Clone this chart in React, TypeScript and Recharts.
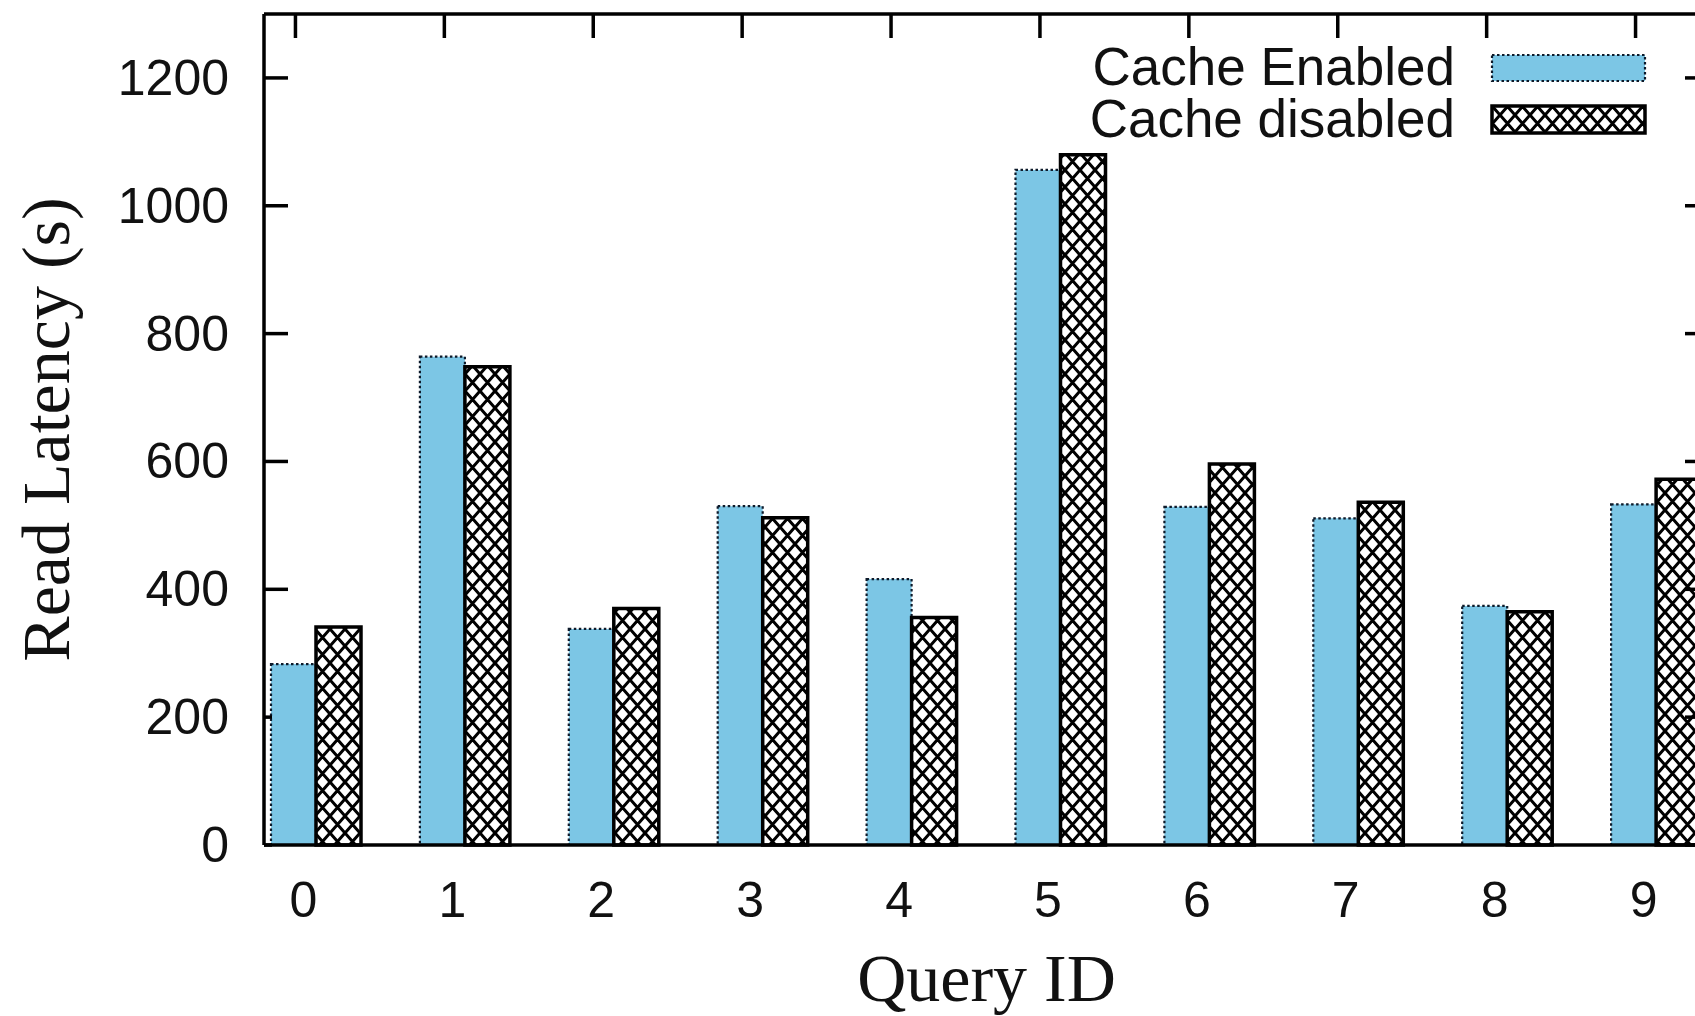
import { BarChart, Bar, XAxis, YAxis, Legend } from 'recharts';

// values (seconds)
const queryIds = ['0', '1', '2', '3', '4', '5', '6', '7', '8', '9'];
const cacheEnabled = [283, 764, 338, 530, 416, 1056, 529, 511, 374, 533];
const cacheDisabled = [341, 748, 370, 512, 356, 1080, 596, 536, 365, 572];
const yTicks = [0, 200, 400, 600, 800, 1000, 1200];

const data = queryIds.map((id, i) => ({ id, enabled: cacheEnabled[i], disabled: cacheDisabled[i] }));

const BLUE = '#7cc6e5';
const SANS = '"Liberation Sans", Arial, sans-serif';
const SERIF = '"Liberation Serif", "Times New Roman", serif';
const AXIS_W = 3.5;
// plot frame (gnuplot border), right side sits just past the visible edge
const PLOT_TOP = 14;
const PLOT_RIGHT = 1709;

const HatchDef = ({ id }) => (
  <pattern id={id} patternUnits="userSpaceOnUse" width={15} height={17}>
    <rect width={15} height={17} fill="#fff" />
    <path d="M0,0 L15,17 M15,0 L0,17" stroke="#000" strokeWidth={3} />
  </pattern>
);

// y labels on the left, inward tick marks on both sides
const LeftTick = (props) => {
  const x = Number(props.x);
  const y = Number(props.y);
  // the first bar sits over the low ticks in the original
  const len = props.payload.value < cacheEnabled[0] ? 8 : 24;
  return (
    <g>
      <line x1={x + 35} x2={x + 35 + len} y1={y} y2={y} stroke="#000" strokeWidth={AXIS_W} />
      <line x1={PLOT_RIGHT - 24} x2={PLOT_RIGHT} y1={y} y2={y} stroke="#000" strokeWidth={AXIS_W} />
      <text x={x} y={y} dy={17} textAnchor="end" fontFamily={SANS} fontSize={50} fill="#111">
        {props.payload.value}
      </text>
    </g>
  );
};

// x labels below, plus the inward tick on the top border
const BottomTick = (props) => {
  const x = Number(props.x);
  const y = Number(props.y);
  return (
    <g>
      <line x1={x - 21} x2={x - 21} y1={PLOT_TOP} y2={PLOT_TOP + 24} stroke="#000" strokeWidth={AXIS_W} />
      <text x={x - 13} y={y} dy={72} textAnchor="middle" fontFamily={SANS} fontSize={50} fill="#111">
        {props.payload.value}
      </text>
    </g>
  );
};

const XTitle = ({ viewBox }) => (
  <text x={viewBox.x + viewBox.width / 2} y={viewBox.y + 156} textAnchor="middle" fontFamily={SERIF} fontSize={68} fill="#111">
    Query ID
  </text>
);

const YTitle = ({ viewBox }) => {
  const cy = viewBox.y + viewBox.height / 2;
  return (
    <g>
      <line x1={viewBox.x + viewBox.width} x2={PLOT_RIGHT} y1={PLOT_TOP} y2={PLOT_TOP} stroke="#000" strokeWidth={AXIS_W} />
      <line x1={PLOT_RIGHT} x2={PLOT_RIGHT} y1={PLOT_TOP} y2={viewBox.y + viewBox.height} stroke="#000" strokeWidth={AXIS_W} />
      <text x={69} y={cy} transform={`rotate(-90, 69, ${cy})`} textAnchor="middle" fontFamily={SERIF} fontSize={68} fill="#111">
        Read Latency (s)
      </text>
    </g>
  );
};

const LegendBox = () => (
  <svg width={620} height={120}>
    <defs>
      <HatchDef id="hatch-key" />
    </defs>
    <text x={405} y={55} textAnchor="end" fontFamily={SANS} fontSize={53} fill="#111">Cache Enabled</text>
    <rect x={442} y={25} width={153} height={26} fill={BLUE} stroke="#0d1a2a" strokeWidth={2.2} strokeDasharray="2.5 2.5" />
    <text x={405} y={107} textAnchor="end" fontFamily={SANS} fontSize={53} fill="#111">Cache disabled</text>
    <rect x={442} y={76} width={153} height={27} fill="url(#hatch-key)" stroke="#000" strokeWidth={AXIS_W} />
  </svg>
);

export default function App() {
  return (
    <div style={{ position: 'absolute', left: 0, top: 0, width: 1695, height: 1016, overflow: 'hidden', background: '#fff' }}>
      <BarChart
        width={1760}
        height={1016}
        data={data}
        margin={{ top: PLOT_TOP, right: 1760 - PLOT_RIGHT, left: 0, bottom: 0 }}
        barSize={45}
        barGap={0}
      >
        <defs>
          <HatchDef id="hatch" />
        </defs>
        <XAxis
          dataKey="id"
          height={171}
          padding={{ left: -22, right: -22 }}
          axisLine={{ stroke: '#000', strokeWidth: AXIS_W }}
          tickLine={false}
          tickSize={0}
          tickMargin={0}
          tick={BottomTick}
          label={<XTitle />}
          interval={0}
        />
        <YAxis
          width={264}
          domain={[0, 1300]}
          ticks={yTicks}
          interval={0}
          axisLine={{ stroke: '#000', strokeWidth: AXIS_W }}
          tickLine={false}
          tickSize={0}
          tickMargin={35}
          tick={LeftTick}
          label={<YTitle />}
        />
        <Legend
          layout="vertical"
          align="center"
          verticalAlign="middle"
          wrapperStyle={{ left: 1050, top: 30, width: 620, height: 120 }}
          content={<LegendBox />}
        />
        <Bar
          dataKey="enabled"
          name="Cache Enabled"
          fill={BLUE}
          stroke="#0d1a2a"
          strokeWidth={2.2}
          strokeDasharray="2.5 2.5"
          isAnimationActive={false}
        />
        <Bar
          dataKey="disabled"
          name="Cache disabled"
          fill="url(#hatch)"
          stroke="#000"
          strokeWidth={AXIS_W}
          isAnimationActive={false}
        />
      </BarChart>
    </div>
  );
}
